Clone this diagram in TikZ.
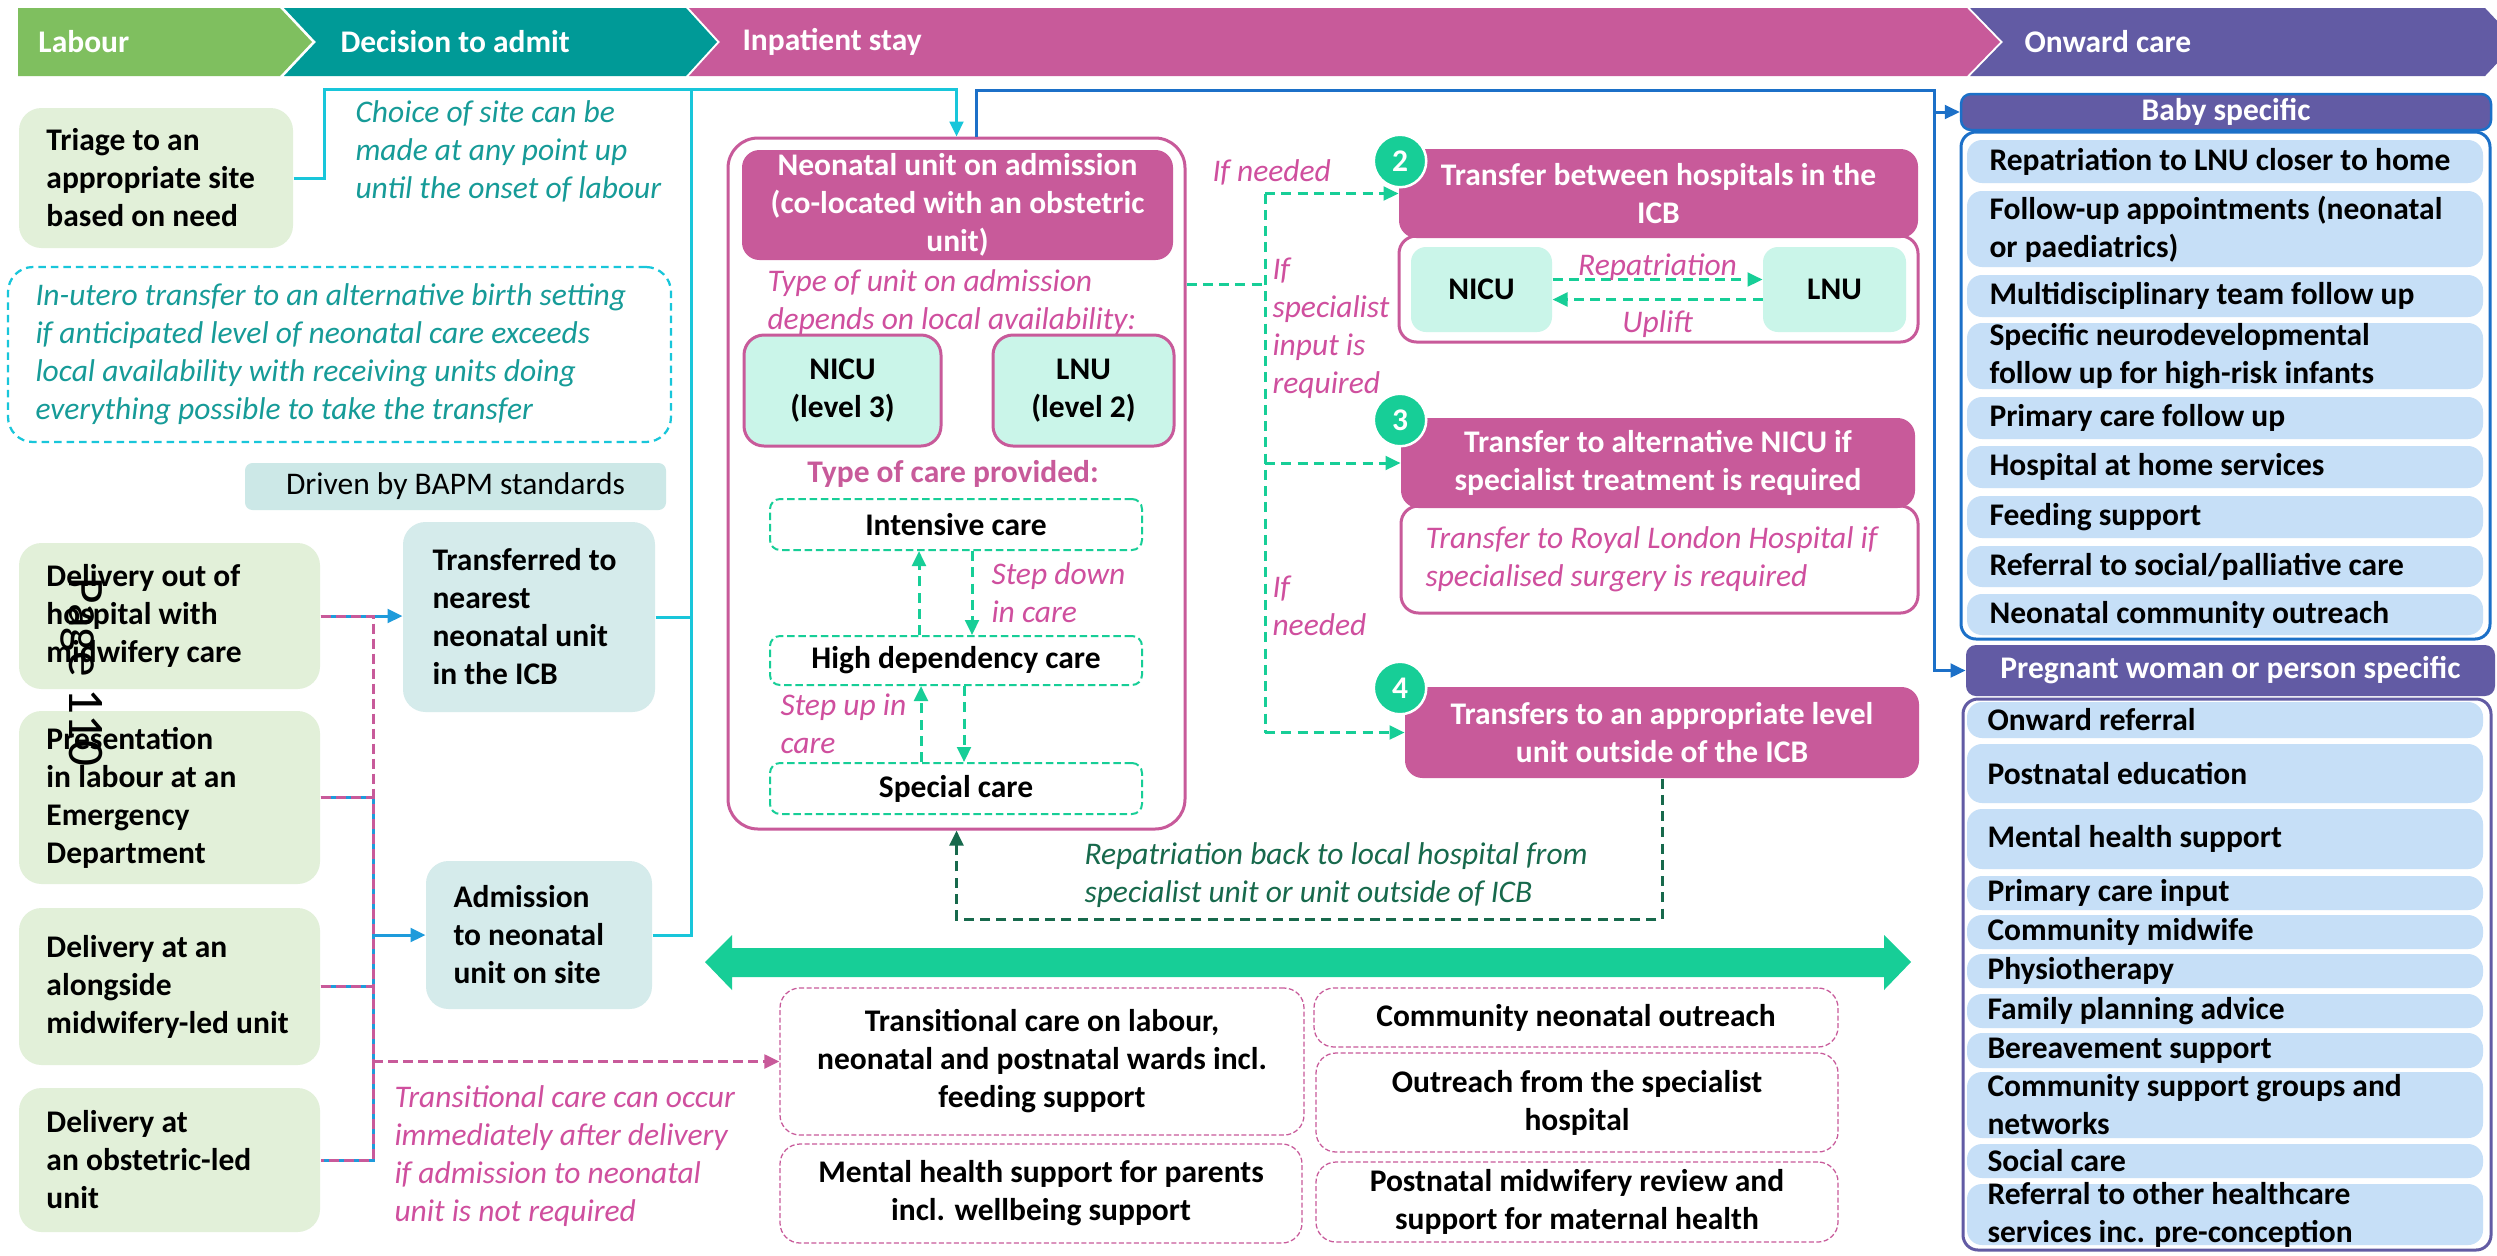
\documentclass[tikz,border=0pt]{standalone}
\usepackage{fontspec}
\setmainfont{Carlito}
\usetikzlibrary{arrows.meta,calc}
\newcommand\fs{\fontsize{12.6}{15.2}\selectfont}
\definecolor{cLab}{HTML}{7FBF5F}
\definecolor{cDec}{HTML}{009A97}
\definecolor{cInp}{HTML}{C85A9A}
\definecolor{cOnw}{HTML}{625BA4}
\definecolor{cLG}{HTML}{E2F0D9}
\definecolor{cTB}{HTML}{D5EBEB}
\definecolor{cBAPM}{HTML}{CCE8E7}
\definecolor{cCyan}{HTML}{18C6DA}
\definecolor{cTealT}{HTML}{169B98}
\definecolor{cPinkT}{HTML}{CF4F9E}
\definecolor{cMint}{HTML}{CAF5E9}
\definecolor{cGreen}{HTML}{17CE97}
\definecolor{cDG}{HTML}{17694C}
\definecolor{cLB}{HTML}{C6DFF7}
\definecolor{cBlue}{HTML}{1C70C8}
\definecolor{cBlueL}{HTML}{1E9BDB}
\newcommand\bx[7]{%
 \pgfmathsetmacro\bxw{(#5-#3)*0.4}\pgfmathsetmacro\bxh{(#6-#4)*0.4}%
 \node[#1, minimum width=\bxw pt, minimum height=\bxh pt, inner sep=0pt, align=center] (#2) at ({(#3+#5)/2},{(#4+#6)/2}) {#7};}
\newcommand\lbx[9]{%
 \bx{#1}{#2}{#3}{#4}{#5}{#6}{}%
 \node[txt,#8,anchor=west,align=left] (#2-t) at (#7,{(#4+#6)/2}) {#9};}
\tikzset{
 txt/.style={inner sep=0pt},
 boldtxt/.style={font=\fs\bfseries},
 regtxt/.style={font=\fs},
 italpink/.style={font=\fs\itshape, text=cPinkT},
 italteal/.style={font=\fs\itshape, text=cTealT},
 italdg/.style={font=\fs\itshape, text=cDG},
 hdrtxt/.style={font=\fs\bfseries, text=white, inner sep=0pt},
 lgbox/.style={fill=cLG, rounded corners=9pt},
 tealbox/.style={fill=cTB, rounded corners=9pt},
 bapmbox/.style={fill=cBAPM, rounded corners=3pt, font=\fs},
 iubox/.style={draw=cCyan, line width=0.9pt, dash pattern=on 3pt off 2pt, rounded corners=10pt},
 neobox/.style={draw=cInp, fill=white, line width=1.2pt, rounded corners=12pt},
 pinkhead/.style={fill=cInp, rounded corners=7pt, font=\fs\bfseries, text=white},
 pinkbody/.style={draw=cInp, fill=white, line width=1.2pt, rounded corners=7pt},
 mintbox/.style={fill=cMint, draw=cInp, line width=1.2pt, rounded corners=8pt, font=\fs\bfseries},
 mintplain/.style={fill=cMint, rounded corners=6pt, font=\fs\bfseries},
 carebox/.style={draw=cGreen, line width=0.8pt, dash pattern=on 3pt off 1.5pt, rounded corners=4pt, font=\fs\bfseries},
 botbox/.style={draw=cInp, line width=0.5pt, dash pattern=on 2pt off 1pt, rounded corners=8pt, font=\fs\bfseries},
 purhead/.style={fill=cOnw, rounded corners=4pt, font=\fs\bfseries, text=white},
 outerbox/.style={fill=white, line width=1.2pt, rounded corners=6pt},
 itembox/.style={fill=cLB, rounded corners=6pt},
 numc/.style={circle, fill=cGreen, draw=white, line width=1pt, minimum size=21pt, inner sep=0pt, font=\fs\bfseries, text=white},
 tip/.style={-{Triangle[length=6pt,width=5.5pt]}},
 cyl/.style={draw=cCyan, line width=1.2pt},
 bll/.style={draw=cBlue, line width=1.2pt},
 bluel/.style={draw=cBlueL, line width=1.2pt},
 pdash/.style={draw=cInp, line width=1.2pt, dash pattern=on 4pt off 2pt},
 gdash/.style={draw=cGreen, line width=1.2pt, dash pattern=on 4pt off 2.5pt},
 dgdash/.style={draw=cDG, line width=1.2pt, dash pattern=on 4pt off 2.5pt},
}
\begin{document}
\begin{tikzpicture}[x=0.4pt,y=-0.4pt]
\useasboundingbox (0,0) rectangle (2497,1255);
\fill[white] (0,0) rectangle (2497,1255);
% header chevrons
\fill[cLab] (18,8) -- (280,8) -- (312,42) -- (280,76) -- (18,76) -- cycle;
\fill[cDec] (284,8) -- (686,8) -- (717,42) -- (686,76) -- (284,76) -- (316,42) -- cycle;
\fill[cInp] (689,8) -- (1967,8) -- (2000,42) -- (1967,76) -- (689,76) -- (720,42) -- cycle;
\fill[cOnw] (1970,8) -- (2485,8) -- (2517,42) -- (2485,76) -- (1970,76) -- (2003,42) -- cycle;
\node[hdrtxt, anchor=west] (hLab) at (38,42) {Labour};
\node[hdrtxt, anchor=west] (hDec) at (340,42) {Decision to admit};
\node[hdrtxt, anchor=west] (hInp) at (742,42) {Inpatient stay};
\node[hdrtxt, anchor=west] (hOnw) at (2024,42) {Onward care};

% left column
\lbx{lgbox}{triage}{19}{108}{293}{248}{46}{boldtxt}{Triage to an\\appropriate site\\based on need}
\node[txt, italteal, anchor=west, align=left] (choice) at (355,151) {Choice of site can be\\made at any point up\\until the onset of labour};
\lbx{iubox}{iu}{8}{267}{671}{442}{35}{italteal}{In-utero transfer to an alternative birth setting\\if anticipated level of neonatal care exceeds\\local availability with receiving units doing\\everything possible to take the transfer}
\bx{bapmbox}{bapm}{245}{463}{666}{510}{Driven by BAPM standards}
\lbx{lgbox}{d1}{19}{543}{320}{689}{46}{boldtxt}{Delivery out of\\hospital with\\midwifery care}
\lbx{lgbox}{d2}{19}{711}{320}{884}{46}{boldtxt}{Presentation\\in labour at an\\Emergency\\Department}
\lbx{lgbox}{d3}{19}{908}{320}{1065}{46}{boldtxt}{Delivery at an\\alongside\\midwifery-led unit}
\lbx{lgbox}{d4}{19}{1088}{320}{1232}{46}{boldtxt}{Delivery at\\an obstetric-led\\unit}
\lbx{tealbox}{trans}{403}{522}{655}{712}{432}{boldtxt}{Transferred to\\nearest\\neonatal unit\\in the ICB}
\lbx{tealbox}{adm}{426}{861}{652}{1009}{453}{boldtxt}{Admission\\to neonatal\\unit on site}
\node[txt, italpink, anchor=west, align=left] (tctext) at (394,1156) {Transitional care can occur\\immediately after delivery\\if admission to neonatal\\unit is not required};

% neonatal unit
\bx{neobox}{neo}{728}{138}{1185}{829}{}
\bx{pinkhead}{neoh}{742}{150}{1173}{260}{Neonatal unit on admission\\(co-located with an obstetric\\unit)}
\node[txt, italpink, anchor=west, align=left] (typeu) at (767,302) {Type of unit on admission\\depends on local availability:};
\bx{mintbox}{nicu}{744}{335}{941}{446}{NICU\\(level 3)}
\bx{mintbox}{lnu}{993}{335}{1174}{446}{LNU\\(level 2)}
\node[txt, font=\fs\bfseries, text=cInp] (typec) at (953,474) {Type of care provided:};
\bx{carebox}{ic}{770}{499}{1142}{550}{Intensive care}
\bx{carebox}{hd}{770}{636}{1142}{685}{High dependency care}
\bx{carebox}{sc}{770}{763}{1142}{814}{Special care}
\node[txt, italpink, anchor=west, align=left] (sdown) at (991,593) {Step down\\in care};
\node[txt, italpink, anchor=west, align=left] (sup) at (780,724) {Step up in\\care};
\coordinate (a1) at (919,0); \coordinate (a2) at (972,0);
\coordinate (a3) at (921,0); \coordinate (a4) at (964,0);
\draw[gdash,tip] (hd.north -| a1) -- (ic.south -| a1);
\draw[gdash,tip] (ic.south -| a2) -- (hd.north -| a2);
\draw[gdash,tip] (sc.north -| a3) -- (hd.south -| a3);
\draw[gdash,tip] (hd.south -| a4) -- (sc.north -| a4);

% transfer boxes
\bx{pinkbody}{t2b}{1399}{236}{1918}{342}{}
\bx{pinkhead}{t2h}{1399}{149}{1918}{238}{Transfer between hospitals in the\\ICB}
\bx{mintplain}{nicu2}{1411}{247}{1552}{332}{NICU}
\bx{mintplain}{lnu2}{1763}{247}{1906}{332}{LNU}
\draw[gdash,tip] ($(nicu2.east)+(0,-10)$) -- ($(lnu2.west)+(0,-10)$) node[txt, italpink, midway, yshift=5pt] (rlab) {Repatriation};
\draw[gdash,tip] ($(lnu2.west)+(0,10)$) -- ($(nicu2.east)+(0,10)$) node[txt, italpink, midway, yshift=-10pt] (ulab) {Uplift};
\lbx{pinkbody}{t3b}{1401}{506}{1918}{613}{1425}{italpink}{Transfer to Royal London Hospital if\\specialised surgery is required}
\bx{pinkhead}{t3h}{1401}{418}{1915}{508}{Transfer to alternative NICU if\\specialist treatment is required}
\bx{pinkhead}{t4h}{1405}{687}{1919}{778}{Transfers to an appropriate level\\unit outside of the ICB}
\node[numc] (c2) at (1400,161) {2};
\node[numc] (c3) at (1400,420) {3};
\node[numc] (c4) at (1400,688) {4};
\node[txt, italpink, anchor=west] (ifn1) at (1212,172) {If needed};
\node[txt, italpink, anchor=west, align=left] (ifsp) at (1272,328) {If\\specialist\\input is\\required};
\node[txt, italpink, anchor=west, align=left] (ifn2) at (1272,606) {If\\needed};
\coordinate (spx) at (1265,284);
\draw[gdash] (spx -| neo.east) -- (spx);
\draw[gdash] (t2h.west -| spx) -- (t4h.west -| spx);
\draw[gdash,tip] (t2h.west -| spx) -- (t2h.west);
\draw[gdash,tip] (t3h.west -| spx) -- (t3h.west);
\draw[gdash,tip] (t4h.west -| spx) -- (t4h.west);

% repatriation back
\coordinate (rb) at (0,919);
\draw[dgdash,tip] (t4h.south) |- (rb -| neo.south) -- (neo.south);
\node[txt, italdg, anchor=west, align=left] (repb) at (1084,875) {Repatriation back to local hospital from\\specialist unit or unit outside of ICB};

% big double arrow
\fill[cGreen] (705,962) -- (732,935) -- (732,948) -- (1884,948) -- (1884,935) -- (1911,962) -- (1884,990) -- (1884,977) -- (732,977) -- (732,990) -- cycle;

% bottom boxes
\bx{botbox}{tc}{780}{988}{1304}{1135}{Transitional care on labour,\\neonatal and postnatal wards incl.\\feeding support}
\bx{botbox}{mh}{780}{1144}{1302}{1243}{Mental health support for parents\\incl. wellbeing support}
\bx{botbox}{cno}{1314}{988}{1838}{1047}{Community neonatal outreach}
\bx{botbox}{ofs}{1316}{1053}{1838}{1152}{Outreach from the specialist\\hospital}
\bx{botbox}{pmr}{1316}{1162}{1838}{1242}{Postnatal midwifery review and\\support for maternal health}

% right column
\bx{outerbox, draw=cBlue}{babyo}{1961}{132}{2490}{639}{}
\bx{purhead, draw=cBlue, line width=1pt}{babyh}{1961}{94}{2491}{130}{Baby specific}
\lbx{itembox}{b1}{1967}{140}{2483}{183}{1989}{boldtxt}{Repatriation to LNU closer to home}
\lbx{itembox}{b2}{1967}{191}{2483}{267}{1989}{boldtxt}{Follow-up appointments (neonatal\\or paediatrics)}
\lbx{itembox}{b3}{1967}{275}{2483}{317}{1989}{boldtxt}{Multidisciplinary team follow up}
\lbx{itembox}{b4}{1967}{323}{2483}{389}{1989}{boldtxt}{Specific neurodevelopmental\\follow up for high-risk infants}
\lbx{itembox}{b5}{1967}{397}{2483}{439}{1989}{boldtxt}{Primary care follow up}
\lbx{itembox}{b6}{1967}{446}{2483}{488}{1989}{boldtxt}{Hospital at home services}
\lbx{itembox}{b7}{1967}{496}{2483}{538}{1989}{boldtxt}{Feeding support}
\lbx{itembox}{b8}{1967}{546}{2483}{587}{1989}{boldtxt}{Referral to social/palliative care}
\lbx{itembox}{b9}{1967}{594}{2483}{635}{1989}{boldtxt}{Neonatal community outreach}
\bx{outerbox, draw=cOnw}{prego}{1963}{699}{2491}{1250}{}
\bx{purhead}{pregh}{1966}{645}{2495}{696}{Pregnant woman or person specific}
\lbx{itembox}{p1}{1967}{702}{2483}{738}{1987}{boldtxt}{Onward referral}
\lbx{itembox}{p2}{1967}{744}{2483}{803}{1987}{boldtxt}{Postnatal education}
\lbx{itembox}{p3}{1967}{809}{2483}{869}{1987}{boldtxt}{Mental health support}
\lbx{itembox}{p4}{1967}{876}{2483}{910}{1987}{boldtxt}{Primary care input}
\lbx{itembox}{p5}{1967}{915}{2483}{949}{1987}{boldtxt}{Community midwife}
\lbx{itembox}{p6}{1967}{954}{2483}{988}{1987}{boldtxt}{Physiotherapy}
\lbx{itembox}{p7}{1967}{994}{2483}{1028}{1987}{boldtxt}{Family planning advice}
\lbx{itembox}{p8}{1967}{1033}{2483}{1068}{1987}{boldtxt}{Bereavement support}
\lbx{itembox}{p9}{1967}{1072}{2483}{1138}{1987}{boldtxt}{Community support groups and\\networks}
\lbx{itembox}{p10}{1967}{1144}{2483}{1178}{1987}{boldtxt}{Social care}
\lbx{itembox}{p11}{1967}{1184}{2483}{1245}{1987}{boldtxt}{Referral to other healthcare\\services inc. pre-conception}

% cyan connectors
\coordinate (cy1) at (324,89);
\coordinate (cyj) at (691,89);
\draw[cyl,tip] (triage.east) -| (cy1) -| (neo.north);
\draw[cyl] (trans.east) -| (cyj);
\draw[cyl] (adm.east) -| (cyj);
% blue connectors to onward care
\coordinate (bT) at (1934,90);
\draw[bll,tip] ($(neo.north)+(20,0)$) |- (bT) |- (pregh.west);
\draw[bll,tip] (bT |- babyh.west) -- (babyh.west);
% left bus
\coordinate (busx) at (373,0);
\draw[bluel,tip] (d1.east) -- (d1.east -| trans.west);
\draw[bluel] (d2.east) -- (d2.east -| busx) -- (d4.east -| busx) -- (d4.east);
\draw[bluel] (d3.east) -- (d3.east -| busx);
\draw[bluel,tip] (adm.west -| busx) -- (adm.west);
\draw[pdash] (d1.east) -- (d1.east -| busx) -- (d4.east -| busx) -- (d4.east);
\draw[pdash] (d2.east) -- (d2.east -| busx);
\draw[pdash] (d3.east) -- (d3.east -| busx);
\draw[pdash,tip] (tc.west -| busx) -- (tc.west);

% page mark
\node[txt, rotate=-90, font=\fontsize{20.5}{22}\selectfont] (pg) at (82,672) {Page 110};
\end{tikzpicture}
\end{document}
